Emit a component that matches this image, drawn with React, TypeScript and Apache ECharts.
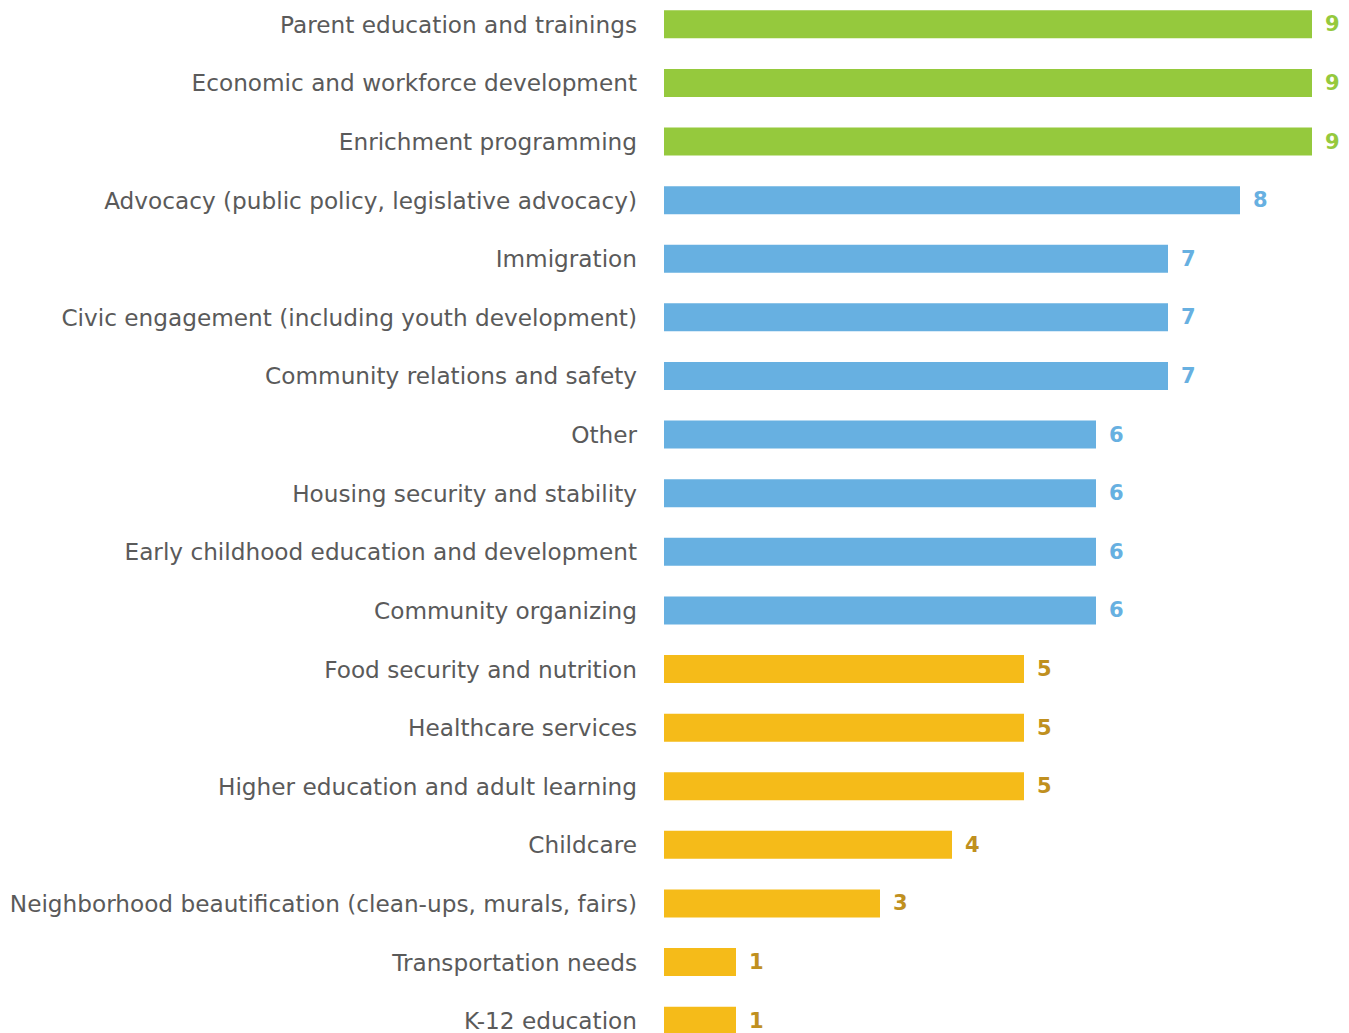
import React, { useEffect, useRef } from "react";
import * as echarts from "echarts";

const categories = [
  "Parent education and trainings",
  "Economic and workforce development",
  "Enrichment programming",
  "Advocacy (public policy, legislative advocacy)",
  "Immigration",
  "Civic engagement (including youth development)",
  "Community relations and safety",
  "Other",
  "Housing security and stability",
  "Early childhood education and development",
  "Community organizing",
  "Food security and nutrition",
  "Healthcare services",
  "Higher education and adult learning",
  "Childcare",
  "Neighborhood beautification (clean-ups, murals, fairs)",
  "Transportation needs",
  "K-12 education",
];
const values = [9, 9, 9, 8, 7, 7, 7, 6, 6, 6, 6, 5, 5, 5, 4, 3, 1, 1];
const groups = ["green", "green", "green", "blue", "blue", "blue", "blue", "blue", "blue", "blue", "blue", "gold", "gold", "gold", "gold", "gold", "gold", "gold"];

const barColors: Record<string, string> = { green: "#95c93d", blue: "#67b0e1", gold: "#f5bb19" };
const labelColors: Record<string, string> = { green: "#95c93d", blue: "#67b0e1", gold: "#c0901f" };

export default function App() {
  const ref = useRef<HTMLDivElement>(null);
  useEffect(() => {
    document.body.style.margin = "0";
    const chart = echarts.init(ref.current!, null, { renderer: "svg" });
    chart.setOption({
      animation: false,
      grid: { left: 664, top: 0, width: 648, height: 1055, containLabel: false },
      xAxis: { type: "value", min: 0, max: 9, show: false },
      yAxis: {
        type: "category",
        inverse: true,
        data: categories,
        axisLine: { show: false },
        axisTick: { show: false },
        axisLabel: { margin: 27, fontSize: 23.2, color: "#5a5a5a", fontFamily: "DejaVu Sans" },
      },
      series: [
        {
          type: "bar",
          barWidth: 28,
          data: values.map((v, i) => ({
            value: v,
            itemStyle: { color: barColors[groups[i]] },
            label: { color: labelColors[groups[i]] },
          })),
          label: {
            show: true,
            position: "right",
            distance: 13,
            fontSize: 21,
            fontWeight: "bold",
            fontFamily: "DejaVu Sans",
          },
        },
      ],
    });
    return () => chart.dispose();
  }, []);
  return (
    <div style={{ width: 1349, height: 1033, overflow: "hidden", position: "relative" }}>
      <div ref={ref} style={{ position: "absolute", left: 0, top: -5, width: 1349, height: 1060 }} />
    </div>
  );
}
